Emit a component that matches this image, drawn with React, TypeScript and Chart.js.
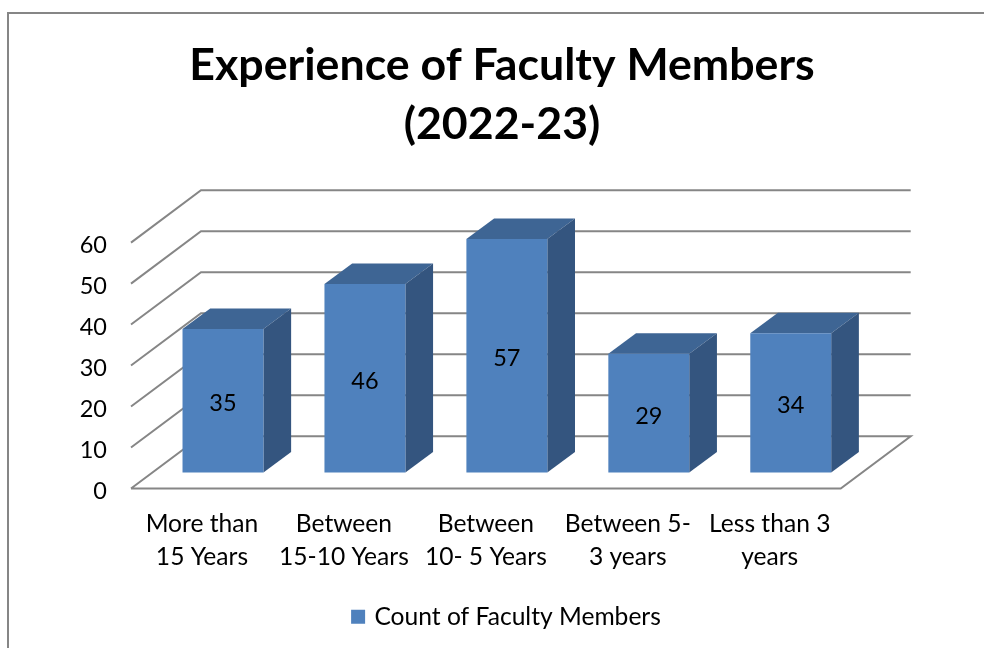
import React, { useEffect, useRef } from "react";
import { Chart, registerables } from "chart.js";

Chart.register(...registerables);

const titleLines = ["Experience of Faculty Members", "(2022-23)"];
const categories = [
  ["More than", "15 Years"],
  ["Between", "15-10 Years"],
  ["Between", "10- 5 Years"],
  ["Between 5-", "3 years"],
  ["Less than 3", "years"],
];
const seriesName = "Count of Faculty Members";
const facultyCounts = [35, 46, 57, 29, 34];

const FONT = "Lato, Carlito, sans-serif";
const GRID = "#868686";
const FRONT = "#4F81BD";
const TOP = "#3E6594";
const SIDE = "#34557F";
const WALL_DX = 70;
const WALL_DY = 52.3;
const BAR_SHIFT_X = 21;
const BAR_SHIFT_Y = 16;
const BAR_DX = 27.7;
const BAR_DY = 20.5;

const poly = (ctx: CanvasRenderingContext2D, pts: number[][], fill: string) => {
  ctx.beginPath();
  pts.forEach(([x, y], i) => (i ? ctx.lineTo(x, y) : ctx.moveTo(x, y)));
  ctx.closePath();
  ctx.fillStyle = fill;
  ctx.fill();
};

const frame3d = {
  id: "frame3d",
  afterLayout(chart: any) {
    const center = (b: any, c: number) => {
      const d = c - (b.left + b.right) / 2;
      b.left += d;
      b.right += d;
    };
    if (chart.titleBlock) center(chart.titleBlock, 502);
    if (chart.legend) center(chart.legend, 507.5);
  },
  beforeDraw(chart: any) {
    const { ctx, width, height } = chart;
    ctx.save();
    ctx.fillStyle = "#fff";
    ctx.fillRect(0, 0, width, height);
    ctx.strokeStyle = GRID;
    ctx.lineWidth = 2;
    ctx.beginPath();
    ctx.moveTo(8, height);
    ctx.lineTo(8, 13);
    ctx.lineTo(width, 13);
    ctx.stroke();
    ctx.restore();
  },
  beforeDatasetsDraw(chart: any) {
    const { ctx, scales } = chart;
    const { x, y } = scales;
    ctx.save();
    ctx.strokeStyle = GRID;
    ctx.lineWidth = 2;
    y.ticks.forEach((t: any) => {
      const py = y.getPixelForValue(t.value);
      ctx.beginPath();
      ctx.moveTo(x.left, py);
      ctx.lineTo(x.left + WALL_DX, py - WALL_DY);
      ctx.lineTo(x.right + WALL_DX, py - WALL_DY);
      if (t.value === 0) {
        ctx.lineTo(x.right, py);
        ctx.lineTo(x.left, py);
      }
      ctx.stroke();
    });
    const meta = chart.getDatasetMeta(0);
    meta.data.forEach((bar: any) => {
      const half = bar.width / 2;
      const l = bar.x - half + BAR_SHIFT_X;
      const r = bar.x + half + BAR_SHIFT_X;
      const t = bar.y - BAR_SHIFT_Y;
      const b = bar.base - BAR_SHIFT_Y;
      poly(ctx, [[l, t], [r, t], [r + BAR_DX, t - BAR_DY], [l + BAR_DX, t - BAR_DY]], TOP);
      poly(ctx, [[r, t], [r + BAR_DX, t - BAR_DY], [r + BAR_DX, b - BAR_DY], [r, b]], SIDE);
    });
    ctx.restore();
    ctx.save();
    ctx.translate(BAR_SHIFT_X, -BAR_SHIFT_Y);
  },
  afterDatasetsDraw(chart: any) {
    const { ctx } = chart;
    ctx.restore();
    ctx.save();
    ctx.fillStyle = "#000";
    ctx.font = `23.5px ${FONT}`;
    ctx.textAlign = "center";
    ctx.textBaseline = "middle";
    chart.getDatasetMeta(0).data.forEach((bar: any, i: number) => {
      const cy = (bar.y + bar.base) / 2 - BAR_SHIFT_Y + 3;
      ctx.fillText(String(facultyCounts[i]), bar.x + BAR_SHIFT_X, cy);
    });
    ctx.restore();
  },
};

export default function App() {
  const ref = useRef<HTMLCanvasElement>(null);
  useEffect(() => {
    const chart = new Chart(ref.current!, {
      type: "bar",
      data: {
        labels: categories,
        datasets: [
          {
            label: seriesName,
            data: facultyCounts,
            backgroundColor: FRONT,
            borderWidth: 0,
            barPercentage: 0.57,
            categoryPercentage: 1,
            clip: false,
          } as any,
        ],
      },
      options: {
        animation: false,
        responsive: false,
        layout: { padding: { left: 0, right: 143.3, top: 36, bottom: 9 } },
        plugins: {
          title: {
            display: true,
            text: titleLines,
            color: "#000",
            font: { family: FONT, size: 44.7, weight: "bold", lineHeight: 59 / 44.7 },
            padding: { top: 0, bottom: 88.6 },
          },
          legend: {
            display: true,
            position: "bottom",
            labels: {
              color: "#000",
              font: { family: FONT, size: 24.6 },
              boxWidth: 8,
              boxHeight: 8,
              padding: 8,
              generateLabels(chart: any) {
                return Chart.defaults.plugins.legend.labels
                  .generateLabels(chart)
                  .map((item: any) => ({ ...item, strokeStyle: FRONT, lineWidth: 6 }));
              },
            },
          },
          tooltip: { enabled: false },
        },
        scales: {
          x: {
            grid: { display: false, drawTicks: false },
            border: { display: false },
            ticks: {
              color: "#000",
              font: { family: FONT, size: 24.6, lineHeight: 33 / 24.6 },
              maxRotation: 0,
              autoSkip: false,
              padding: 19,
            },
            afterFit(s: any) {
              s.height = 107.9;
            },
          },
          y: {
            min: 0,
            max: 60,
            grid: { display: false, drawTicks: false },
            border: { display: false },
            ticks: {
              stepSize: 10,
              color: "#000",
              font: { family: FONT, size: 23.5, lineHeight: 5 / 23.5 },
              padding: 24,
              callback: (v: any) => ["", String(v)],
            },
            afterFit(s: any) {
              s.width = 131;
            },
          },
        },
      },
      plugins: [frame3d],
    } as any);
    return () => chart.destroy();
  }, []);
  return (
    <canvas
      ref={ref}
      width={984}
      height={648}
      style={{ position: "fixed", left: 0, top: 0, width: 984, height: 648, display: "block" }}
    />
  );
}
